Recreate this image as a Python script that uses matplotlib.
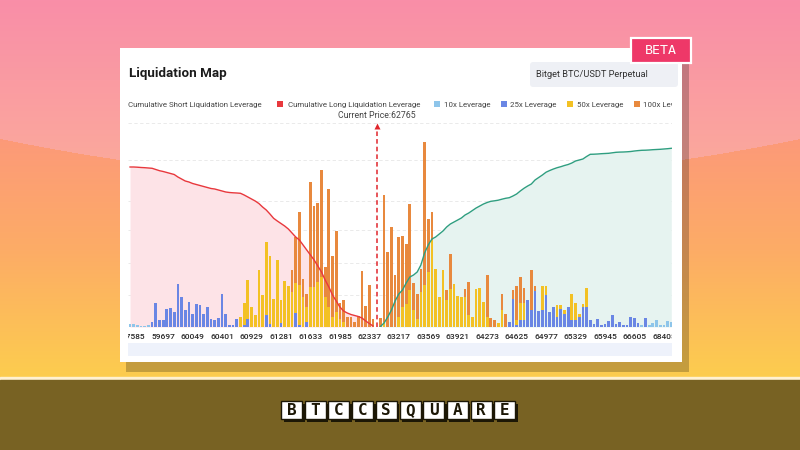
import matplotlib
matplotlib.use("Agg")
import matplotlib.pyplot as plt
import numpy as np
from matplotlib.patches import Rectangle, FancyBboxPatch
from matplotlib.transforms import Bbox, TransformedBbox, blended_transform_factory

# ---- data ----
price_labels = ["57585", "59697", "60049", "60401", "60929", "61281", "61633", "61985", "62337",
                "63217", "63569", "63921", "64273", "64625", "64977", "65329", "65945", "66605", "68405"]
label_idx = [1, 9, 17, 25, 33, 41, 49, 57, 65, 73, 81, 89, 97, 105, 113, 121, 129, 137, 145]
current_price = "62765"
current_idx = 67

lev10 = [2.7, 3.3, 1.7, 0.7, 1.0, 1.7, 0, 0, 0, 0, 0, 0, 0, 0, 0, 0, 0, 0, 0, 0,
         0, 0, 0, 0, 0, 0, 0, 0, 0, 0, 0, 0, 0, 0, 0, 0, 0, 0, 0, 0,
         0, 0, 0, 0, 0, 0, 0, 0, 0, 0, 0, 0, 0, 0, 0, 0, 0, 0, 0, 0,
         0, 0, 0, 0, 0, 0, 0, 0, 0, 0, 0, 0, 0, 0, 0, 0, 0, 0, 0, 0,
         0, 0, 0, 0, 0, 0, 0, 0, 0, 0, 0, 0, 0, 0, 0, 0, 0, 0, 0, 0,
         0, 0, 0, 0, 0, 0, 0, 0, 0, 0, 0, 0, 0, 0, 0, 0, 0, 0, 0, 0,
         0, 0, 0, 0, 0, 0, 0, 0, 0, 0, 0, 0, 0, 0, 0, 0, 0, 0, 0, 1.7,
         0, 2.3, 4.0, 6.7, 1.7, 1.7, 5.7, 5.0]
lev25 = [0, 0, 0, 0, 0, 0, 5, 24, 7.3, 7.3, 17.7, 18.7, 15, 43.3, 30, 16.7, 24.7, 12.7, 22.7, 22,
         13.3, 20, 7.7, 7.3, 9, 32.7, 12.7, 1.7, 1.7, 7.7, 0, 2, 8, 0, 0, 0, 0, 12, 3, 0,
         0, 4, 0, 0, 0, 14, 2, 0, 5, 0, 0, 0, 0, 0, 0, 0, 0, 0, 0, 0,
         0, 0, 0, 0, 0, 0, 0, 0, 0, 0, 0, 0, 0, 0, 0, 0, 0, 0, 0, 0,
         0, 0, 0, 0, 0, 0, 0, 0, 0, 0, 0, 0, 0, 0, 0, 0, 0, 0, 0, 0,
         0, 0, 0, 5, 28, 2, 7, 7, 27, 17, 36, 16, 17, 32, 15, 20, 10, 18, 13, 20,
         7, 7, 10, 20, 20, 6.7, 2.7, 8.3, 1.7, 3.3, 6, 11.7, 3.3, 5, 1.7, 1.7, 10, 9, 4, 0,
         9.3, 0, 0, 0, 0, 0, 0, 0]
lev50 = [0, 0, 0, 0, 0, 0, 0, 0, 0, 0, 0, 0, 0, 0, 0, 0, 0, 0, 0, 0,
         0, 0, 0, 0, 0, 0, 0, 0, 0, 0, 10, 22.3, 38.7, 20, 11.7, 56.7, 31.7, 73, 67.7, 28,
         67.3, 23.3, 45.7, 41, 35, 30, 40, 30, 15, 40, 40, 45, 50, 30, 20, 10, 15, 8, 5, 0,
         0, 0, 0, 0, 0, 0, 0, 0, 0, 5, 0, 0, 0, 10, 20, 23, 37, 17, 8, 35,
         42, 55, 87, 58, 30, 57, 27, 38, 43, 31, 30, 30, 12, 10, 38, 39, 25, 10, 0, 0,
         4, 17, 0, 0, 0, 5, 17, 17, 0, 0, 0, 0, 24, 9, 0, 0, 12, 4, 4, 0,
         26, 17, 3, 3, 19, 0, 0, 0, 0, 0, 0, 0, 0, 0, 0, 0, 0, 0, 0, 0,
         0, 0, 0, 0, 0, 0, 0, 0]
lev100 = [0, 0, 0, 0, 0, 0, 0, 0, 0, 0, 0, 0, 0, 0, 0, 0, 0, 0, 0, 0,
          0, 0, 0, 0, 0, 0, 0, 0, 0, 0, 0, 0, 0, 0, 0, 0, 0, 0, 0, 0,
          0, 0, 0, 0, 21.7, 46, 73, 18, 13, 105, 81, 79, 107, 30, 118, 61, 81, 16, 22, 10,
          10, 5, 11, 56, 21, 42, 8, 0, 9, 127, 75, 100, 52, 80, 71, 60, 86, 27, 25, 23,
          143, 53, 28, 0, 0, 0, 10, 35, 0, 0, 0, 8, 33, 0, 0, 0, 0, 42, 9, 7,
          0, 16, 13, 0, 9, 34, 26, 15, 0, 40, 5, 0, 0, 0, 0, 0, 0, 0, 0, 0,
          0, 0, 0, 0, 0, 0, 0, 0, 0, 0, 0, 0, 0, 0, 0, 0, 0, 0, 0, 0,
          0, 0, 0, 0, 0, 0, 0, 0]

# cumulative long liquidations (left of price) and short liquidations (right of price)
cum_long = [160, 160, 159.8, 159.5, 159.3, 159, 158.7, 157.5, 156.3, 155.5,
            154.5, 153.5, 152.5, 150, 148, 146, 145, 143.5, 142.5, 141.5,
            140.5, 139.5, 138.5, 138, 137, 136, 135, 134.5, 134.2, 134,
            133.7, 132, 130, 128, 126, 123.5, 120, 117, 113, 108.7,
            106, 103.5, 101, 98, 94, 90, 87, 82, 77, 72,
            67, 61, 55, 47, 40, 32, 26, 20, 16, 14,
            12.5, 11.5, 10.5, 9, 6, 3.5, 1]
cum_short = [0.5, 4, 10, 17, 26, 33, 37, 44, 50, 52,
             55, 62, 74, 82, 88, 90, 93, 96, 100, 103,
             105, 107, 109, 112, 114, 116.5, 119, 121, 123, 124.5,
             125.7, 126.2, 126.8, 127.8, 128.7, 129.3, 131, 133, 136, 138.7,
             141, 143, 147, 149.5, 152, 154.8, 156.5, 158, 159.3, 160.3,
             161.5, 162.5, 164, 166, 167, 168, 170.5, 172.7, 172.8, 173,
             173.3, 173.5, 173.7, 174.2, 174.7, 174.9, 175, 175.2, 175.5, 176,
             176.4, 176.7, 176.8, 177, 177.3, 177.5, 177.7, 178, 178.3, 178.7]

legend_items = ["Cumulative Short Liquidation Leverage", "Cumulative Long Liquidation Leverage",
                "10x Leverage", "25x Leverage", "50x Leverage", "100x Leverage"]
grid_levels = [32, 64, 97, 126, 167, 204]
logo = "BTCCSQUARE"

C10, C25, C50, C100 = "#8ec5ea", "#6a86e4", "#f3c124", "#e8893e"
CRED, CGREEN = "#e8383d", "#2f9e80"
FONT = ["Roboto", "DejaVu Sans"]

W, H = 800, 450
fig = plt.figure(figsize=(8, 4.5), dpi=100)

# ---- background (pixel coordinates, y down) ----
bg = fig.add_axes([0, 0, 1, 1])
bg.set_xlim(0, W)
bg.set_ylim(H, 0)
bg.axis("off")

yy, xx = np.mgrid[0:380, 0:W].astype(float)
arc = 180 - 2.6e-4 * (xx - 400) ** 2
top0, top1 = np.array([249, 142, 168]), np.array([251, 168, 156])
t = np.clip(yy / 160, 0, 1)[..., None]
pink = top0 * (1 - t) + top1 * t
s0, s1, s2 = np.array([252, 152, 122]), np.array([252, 172, 102]), np.array([253, 205, 78])
u = np.clip((yy - 130) / 120, 0, 1)[..., None]
v = np.clip((yy - 250) / 128, 0, 1)[..., None]
warm = np.where(yy[..., None] < 250, s0 * (1 - u) + s1 * u, s1 * (1 - v) + s2 * v)
img = np.where((yy < arc)[..., None], pink, warm) / 255.0
bg.imshow(img, extent=(0, W, 380, 0), aspect="auto", interpolation="bilinear", zorder=0)
bg.add_patch(Rectangle((0, 377), W, 3, color="#fff1d2", zorder=1))
bg.add_patch(Rectangle((0, 380), W, 70, color="#786223", zorder=1))

# card with shadow
bg.add_patch(Rectangle((126, 55), 563, 317, color="black", alpha=0.22, lw=0, zorder=2))
bg.add_patch(Rectangle((120, 48), 562, 314, color="white", lw=0, zorder=3))

# BETA badge
bg.add_patch(Rectangle((631, 38), 60, 25, fc="#ee3868", ec="white", lw=1.6, zorder=5))
bg.text(661, 51, "BETA", color="white", fontsize=9.5, family="DejaVu Sans Mono",
        ha="center", va="center", zorder=6)

# title and selector
bg.text(129, 74, "Liquidation Map", fontsize=9.6, weight="bold", color="#1b1b1b",
        family=FONT, va="center", zorder=4)
bg.add_patch(FancyBboxPatch((530, 62), 148, 25, boxstyle="round,pad=0,rounding_size=3",
                            fc="#eef0f5", ec="none", zorder=4))
bg.text(536, 74.5, "Bitget BTC/USDT Perpetual", fontsize=6.7, color="#333333",
        family=FONT, va="center", zorder=5)

# legend (clipped at the card's content edge)
clip_card = TransformedBbox(Bbox([[0, 0], [672 / W, 1]]), fig.transFigure)
leg_text_x = [128, 288, 444, 510, 577, 643]
leg_sq_x = [None, 279.5, 437, 503.5, 569.5, 636.5]
leg_colors = [CGREEN, CRED, C10, C25, C50, C100]
for lab, tx, sx, col in zip(legend_items, leg_text_x, leg_sq_x, leg_colors):
    if sx is not None:
        bg.add_patch(Rectangle((sx - 3, 101), 6, 6, color=col, lw=0, zorder=5))
    tt = bg.text(tx, 104.5, lab, fontsize=5.7, color="#444444", family=FONT,
                 va="center", zorder=5)
    tt.set_clip_path(None)
    tt.set_clip_box(clip_card)
    tt.set_clip_on(True)

# zoom slider band under the axis
bg.add_patch(Rectangle((128, 343), 544, 13, color="#eef2fb", lw=0, zorder=4))

# BTCCSQUARE logo tiles
for i, ch in enumerate(logo):
    x0 = 281 + i * 23.7
    bg.add_patch(Rectangle((x0 + 2.5, 403.5), 21, 18, color="#1c1706", lw=0, zorder=4))
    bg.add_patch(Rectangle((x0, 401), 21, 18, fc="white", ec="#1c1706", lw=1.0, zorder=5))
    bg.text(x0 + 10.5, 410.5, ch, fontsize=11.5, weight="bold", family="DejaVu Sans Mono",
            color="#1c1706", ha="center", va="center", zorder=6)

# ---- chart ----
ax = fig.add_axes([128 / W, 1 - 327 / H, 544 / W, 207 / H])
ax.patch.set_visible(False)
n = len(lev10)
x = np.arange(n)
ax.set_xlim(-0.55, n - 0.8)
ax.set_ylim(0, 207)
for s in ax.spines.values():
    s.set_visible(False)
ax.set_xticks([])
ax.set_yticks([])
for g in grid_levels:
    ax.axhline(g, color="#e6e6e6", lw=0.6, ls=(0, (4, 3)), zorder=0.5)

x_long = np.arange(len(cum_long))
x_short = np.arange(n - len(cum_short), n)
ax.fill_between(x_long, cum_long, 0, color="#fde3e7", lw=0, zorder=1)
ax.fill_between(x_short, cum_short, 0, color="#e6f3f0", lw=0, zorder=1)

b = np.zeros(n)
for vals, col in [(lev10, C10), (lev25, C25), (lev50, C50), (lev100, C100)]:
    vals = np.array(vals, dtype=float)
    ax.bar(x, vals, bottom=b, width=0.74, color=col, lw=0, zorder=3)
    b += vals

ax.plot(x_long, cum_long, color=CRED, lw=1.0, zorder=4)
ax.plot(x_short, cum_short, color=CGREEN, lw=1.0, zorder=4)

ax.plot([current_idx, current_idx], [0, 199], color="#e0262c", lw=1.1,
        ls=(0, (3, 2)), zorder=5)
ax.plot(current_idx, 201, marker="^", ms=5, color="#e0262c", mec="none", zorder=5)

trans = blended_transform_factory(ax.transData, ax.transAxes)
ax.text(current_idx, 1.02, "Current Price:" + current_price, transform=trans,
        fontsize=6.3, color="#444444", family=FONT, ha="center", va="center")

clip_ax = TransformedBbox(Bbox([[128 / W, 0], [672 / W, 1]]), fig.transFigure)
for i, lab in zip(label_idx, price_labels):
    tl = fig.text(i, -0.05, lab, transform=trans, fontsize=6.0, color="#2a2a2a",
                  family=FONT, weight="medium", ha="center", va="center")
    tl.set_clip_box(clip_ax)
    tl.set_clip_on(True)

fig.savefig("out.png", dpi=100)
